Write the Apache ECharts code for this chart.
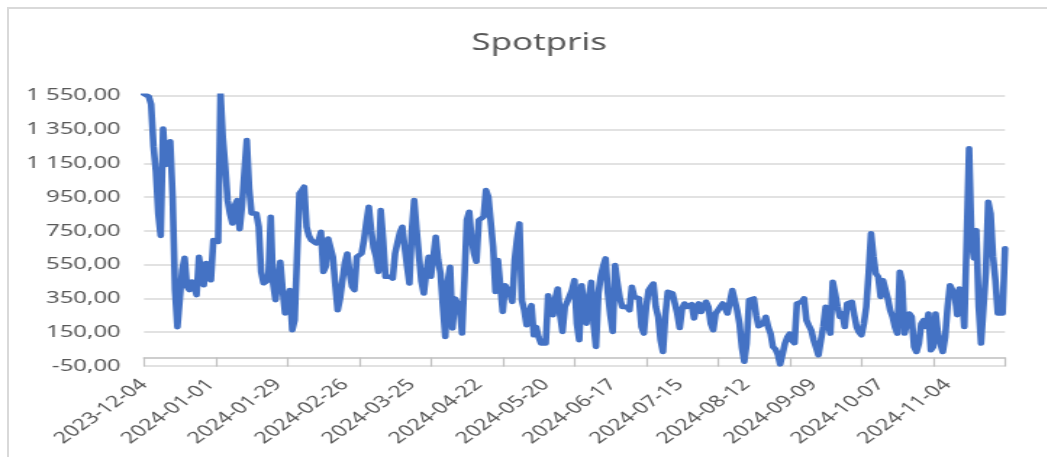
<!DOCTYPE html>
<html>
<head>
<meta charset="utf-8">
<script src="https://cdn.jsdelivr.net/npm/echarts@6/dist/echarts.min.js"></script>
<style>
  html, body { margin: 0; padding: 0; background: #fff; }
  #frame {
    position: absolute; left: 7px; top: 7px; width: 1040px; height: 450px;
    border-left: 2px solid #d9d9d9; border-top: 2px solid #d9d9d9; box-sizing: border-box;
  }
  #chart {
    position: absolute; left: 0; top: 0; width: 723px; height: 459px;
    transform: scaleX(1.44952); transform-origin: 0 0;
  }
</style>
</head>
<body>
<div id="frame"></div>
<div id="chart"></div>
<script>
// first day of the series, one value per day
const startDate = "2023-12-04";

// Spotpris, daily (30 values per row)
const spotpris = [
  1560, 1555, 1545, 1500, 1250, 1100, 850, 720, 1355, 1140, 1230, 1280, 950, 400, 180, 350, 520, 590, 420, 400, 450, 420, 370, 596, 500, 428, 559, 470, 458, 695,
  690, 685, 1570, 1300, 1130, 930, 850, 794, 900, 932, 760, 900, 1100, 1288, 1000, 853, 860, 853, 774, 507, 440, 450, 458, 833, 438, 340, 450, 567, 400, 261,
  330, 399, 162, 221, 600, 972, 990, 1011, 774, 720, 695, 700, 676, 690, 744, 507, 537, 705, 650, 596, 430, 280, 350, 458, 560, 616, 500, 420, 399, 596,
  600, 616, 695, 800, 893, 754, 650, 600, 507, 873, 700, 478, 470, 480, 468, 616, 680, 740, 774, 655, 540, 438, 750, 932, 754, 600, 450, 379, 500, 596,
  478, 478, 715, 580, 498, 300, 122, 450, 537, 172, 350, 360, 300, 142, 458, 814, 863, 700, 616, 567, 814, 820, 833, 991, 952, 942, 655, 389, 577, 567,
  270, 428, 420, 380, 330, 577, 700, 794, 340, 280, 191, 260, 310, 132, 181, 120, 83, 83, 83, 369, 300, 251, 350, 409, 250, 152, 300, 330, 330, 400,
  458, 200, 103, 428, 300, 201, 350, 448, 200, 63, 379, 480, 540, 587, 379, 250, 152, 547, 438, 350, 300, 300, 300, 280, 419, 359, 360, 350, 181, 142,
  300, 399, 420, 438, 300, 241, 103, 33, 250, 389, 379, 380, 379, 260, 175, 290, 320, 300, 300, 316, 231, 300, 320, 270, 300, 330, 300, 200, 162, 260,
  280, 300, 320, 330, 261, 330, 399, 340, 280, 200, 60, -25, 83, 340, 345, 350, 250, 185, 181, 200, 241, 180, 142, 63, 50, 20, -40, 20, 83, 120,
  142, 100, 85, 320, 310, 330, 350, 221, 190, 162, 103, 60, 14, 100, 181, 300, 200, 142, 448, 379, 300, 241, 261, 181, 320, 330, 330, 250, 181, 150,
  132, 200, 300, 500, 735, 600, 498, 478, 359, 458, 458, 350, 280, 241, 180, 142, 507, 450, 142, 200, 261, 241, 63, 33, 83, 200, 221, 181, 261, 43,
  63, 261, 142, 80, 33, 122, 300, 428, 400, 379, 251, 409, 379, 181, 700, 1238, 700, 587, 754, 300, 83, 83, 500, 922, 853, 600, 458, 261, 261, 261,
  646
];

// y axis
const yMin = -50;
const yMax = 1550;
const yStep = 200;

// category labels: one date per value
const dates = [];
const d0 = new Date(startDate + "T00:00:00Z");
for (let i = 0; i < spotpris.length; i++) {
  const d = new Date(d0.getTime() + i * 86400000);
  dates.push(d.toISOString().slice(0, 10));
}

// 1 550,00 style numbers
function fmt(v) {
  const neg = v < 0;
  const s = Math.abs(v).toFixed(2).split(".");
  const int = s[0].replace(/\B(?=(\d{3})+(?!\d))/g, " ");
  return (neg ? "-" : "") + int + "," + s[1];
}

const chart = echarts.init(document.getElementById("chart"), null, { renderer: "canvas" });
chart.setOption({
  animation: false,
  title: {
    text: "Spotpris",
    left: 367,
    top: 26,
    textAlign: "center",
    textStyle: { fontFamily: "Noto Sans", fontSize: 24, fontWeight: "normal", color: "#595959" }
  },
  grid: { left: 99.3, right: 29.7, top: 95.7, bottom: 93 },
  xAxis: {
    type: "category",
    data: dates,
    boundaryGap: false,
    axisLine: { onZero: true, lineStyle: { color: "#bfbfbf", width: 1.5 } },
    axisTick: { interval: 29, length: 9, lineStyle: { color: "#bfbfbf", width: 1.2 } },
    axisLabel: {
      interval: 27,
      rotate: 45,
      margin: 16,
      fontFamily: "Noto Sans",
      fontSize: 16,
      color: "#595959"
    },
    splitLine: { show: false }
  },
  yAxis: {
    type: "value",
    min: yMin,
    max: yMax,
    interval: yStep,
    axisLine: { show: false },
    axisTick: { show: false },
    axisLabel: { margin: 16, fontFamily: "Noto Sans", fontSize: 16.5, color: "#595959", formatter: fmt },
    splitLine: { lineStyle: { color: "#d9d9d9", width: 1.5 } }
  },
  series: [
    {
      name: "Spotpris",
      type: "line",
      data: spotpris,
      showSymbol: false,
      lineStyle: { color: "#4472C4", width: 4.6, join: "round", cap: "round" }
    }
  ]
});
</script>
</body>
</html>
